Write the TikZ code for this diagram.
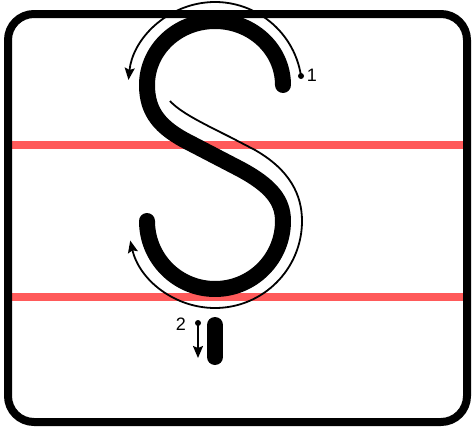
\documentclass[tikz,border=0pt]{standalone}
\usepackage{fontspec}
\setmainfont{Liberation Sans}
\usetikzlibrary{arrows.meta}

\definecolor{rulered}{RGB}{255,90,90}

\begin{document}
\begin{tikzpicture}[
    x=1pt, y=-1pt,
    frame/.style={line width=8pt, rounded corners=26pt},
    ruling/.style={rulered, line width=8pt},
    letter/.style={line width=16pt, line cap=round, line join=round},
    guide/.style={line width=1.8pt, -{Stealth[length=12pt, width=10pt, inset=2pt]}},
    num/.style={font=\fontsize{18}{18}\selectfont, inner sep=0pt}
]
\useasboundingbox (0,0) rectangle (472,431);

% Ruling lines
\draw[ruling] (12,145) coordinate (topl) -- (464,145) coordinate (topr);
\draw[ruling] (12,297) coordinate (basel) -- (464,297) coordinate (baser);

% Frame
\draw[frame] (8,14) rectangle (467,422);

% Letter S
\draw[letter] (283,85) arc[start angle=0, end angle=-180, x radius=68, y radius=64]
    .. controls (147,112) and (160,128) .. (190,143)
    -- (240,169)
    .. controls (270,185) and (283,200) .. (283,221)
    arc[start angle=0, end angle=180, radius=68];

% Stroke 1
\coordinate (start1) at (301,76);
\fill (start1) circle (3);
\draw[guide] (start1) arc[start angle=-8.6, end angle=-174, radius=87];
\draw[guide] (170,101) coordinate (start1b)
    .. controls (180,112) and (200,122) .. (230,137)
    -- (255,150)
    .. controls (290,170) and (302,195) .. (302,221)
    arc[start angle=0, end angle=167, radius=87];
\node[num] (lbl1) at (312,75) {1};

% Stroke 2
\draw[letter] (215,325) coordinate (tick) -- (215,357);
\coordinate (start2) at (198,323);
\coordinate (end2) at (198,358);
\fill (start2) circle (3);
\draw[guide] (start2) -- (end2);
\node[num] (lbl2) at (181,324) {2};

\end{tikzpicture}
\end{document}
